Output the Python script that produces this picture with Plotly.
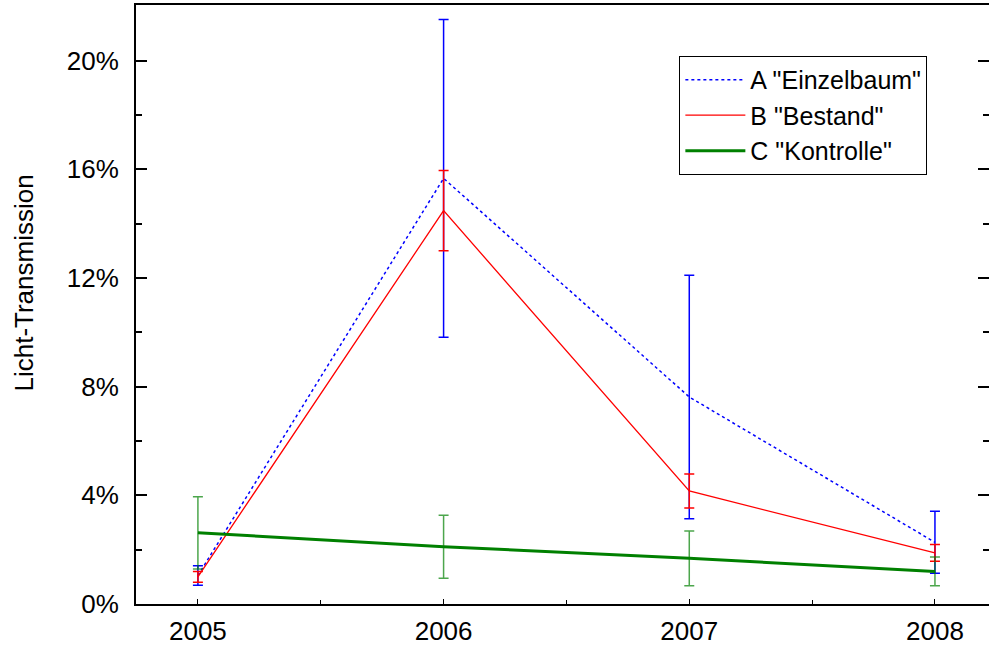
import plotly.graph_objects as go

years = [2005, 2006, 2007, 2008]

a_name = 'A "Einzelbaum"'
a_vals = [1.05, 15.67, 7.62, 2.27]
a_err = [0.36, 5.85, 4.48, 1.14]

b_name = 'B "Bestand"'
b_vals = [1.0, 14.48, 4.16, 1.88]
b_err = [0.2, 1.48, 0.63, 0.31]

c_name = 'C "Kontrolle"'
c_vals = [2.62, 2.11, 1.68, 1.2]
c_err = [1.33, 1.16, 1.01, 0.53]

y_ticks = [0, 4, 8, 12, 16, 20]
y_labels = ["0%", "4%", "8%", "12%", "16%", "20%"]
y_title = "Licht-Transmission"

fig = go.Figure()
fig.add_trace(go.Scatter(
    x=years, y=a_vals, name=a_name, mode="lines",
    line=dict(color="#0000ff", width=1.5, dash="dot"),
    error_y=dict(type="data", array=a_err, visible=True, color="#0000ff", thickness=1.5, width=5),
))
fig.add_trace(go.Scatter(
    x=years, y=b_vals, name=b_name, mode="lines",
    line=dict(color="#ff0000", width=1.3),
    error_y=dict(type="data", array=b_err, visible=True, color="#ff0000", thickness=1.5, width=5),
))
fig.add_trace(go.Scatter(
    x=years, y=c_vals, name=c_name, mode="lines",
    line=dict(color="#008000", width=3),
    error_y=dict(type="data", array=c_err, visible=True, color="rgba(0,128,0,0.7)", thickness=1.5, width=5),
))

font = "Liberation Sans, Arial, sans-serif"
fs = 26
fig.update_layout(
    paper_bgcolor="white", plot_bgcolor="white",
    margin=dict(l=136, r=0, t=5, b=41),
    font=dict(family=font, size=fs, color="black"),
    showlegend=True,
    legend=dict(
        x=0.637, y=0.915, xanchor="left", yanchor="top",
        bgcolor="white", bordercolor="black", borderwidth=1,
        font=dict(family=font, size=25), itemwidth=60, tracegroupgap=0,
    ),
    xaxis=dict(
        range=[2004.748, 2008.22], tickvals=years, ticktext=[str(y) for y in years],
        showgrid=False, zeroline=False, showline=True, linecolor="black", linewidth=2,
        mirror=True, ticks="inside", ticklen=5, tickcolor="black", tickwidth=1,
        minor=dict(tickvals=[2005.5, 2006.5, 2007.5], ticks="inside", ticklen=4, tickcolor="black"),
        ticklabelstandoff=3, automargin=False,
        tickfont=dict(family=font, size=fs),
    ),
    yaxis=dict(
        range=[0, 22.05], tickvals=y_ticks, ticktext=y_labels,
        showgrid=False, zeroline=False, showline=True, linecolor="black", linewidth=2,
        mirror="ticks", ticks="inside", ticklen=11, tickcolor="black", tickwidth=2,
        minor=dict(tickvals=[2, 6, 10, 14, 18], ticks="inside", ticklen=6, tickcolor="black", tickwidth=1.5),
        ticklabelstandoff=10, automargin=False,
        tickfont=dict(family=font, size=fs),
    ),
    annotations=[dict(
        text=y_title, textangle=-90, showarrow=False,
        xref="paper", yref="paper", x=-0.1313, y=0.535,
        xanchor="center", yanchor="middle",
        font=dict(family=font, size=fs, color="black"),
    )],
)

fig.write_html("out.html")
